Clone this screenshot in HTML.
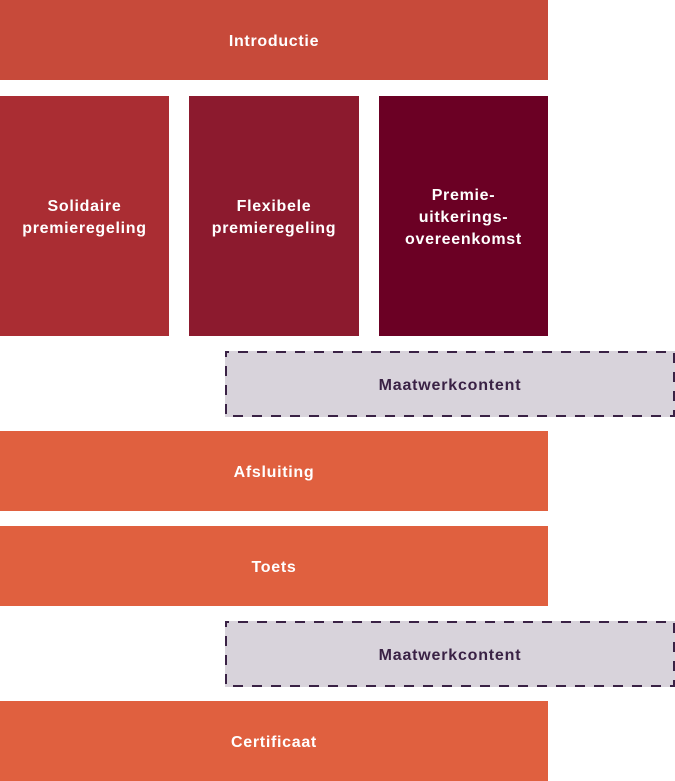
<!DOCTYPE html>
<html>
<head>
<meta charset="utf-8">
<style>
  html, body { margin:0; padding:0; background:#ffffff; }
  body { width:675px; height:781px; position:relative; overflow:hidden;
         font-family:"Liberation Sans", "DejaVu Sans", sans-serif; }
  .b { position:absolute; display:flex; align-items:center; justify-content:center;
       text-align:center; color:#ffffff; font-weight:bold; font-size:16px;
       letter-spacing:0.7px; line-height:22px; box-sizing:border-box; padding-top:4px; }
  .dash { position:absolute; left:225px; width:450px; height:66px; }
  .dash svg { position:absolute; left:0; top:0; }
  .dash span { position:absolute; left:0; top:0; width:450px; height:66px;
       box-sizing:border-box; padding-top:3px;
       display:flex; align-items:center; justify-content:center;
       color:#3a2245; font-weight:bold; font-size:16px; letter-spacing:0.8px; }
</style>
</head>
<body>
  <div class="b" style="left:0;top:0;width:548px;height:80px;background:#c74a3a;">Introductie</div>

  <div class="b" style="left:0;top:96px;width:169px;height:240px;background:#aa2d33;">Solidaire<br>premieregeling</div>
  <div class="b" style="left:189px;top:96px;width:170px;height:240px;background:#8c1a2e;">Flexibele<br>premieregeling</div>
  <div class="b" style="left:379px;top:96px;width:169px;height:240px;background:#6b0024;">Premie-<br>uitkerings-<br>overeenkomst</div>

  <div class="dash" style="top:351px;">
    <svg width="450" height="66" viewBox="0 0 450 66">
      <rect x="0" y="0" width="450" height="66" fill="#d8d3db"/>
      <rect x="1" y="1" width="448" height="64" fill="none" stroke="#3a2245" stroke-width="2" stroke-dasharray="10 9" stroke-dashoffset="7"/>
    </svg>
    <span>Maatwerkcontent</span>
  </div>

  <div class="b" style="left:0;top:431px;width:548px;height:80px;background:#e0603f;">Afsluiting</div>
  <div class="b" style="left:0;top:526px;width:548px;height:80px;background:#e0603f;">Toets</div>

  <div class="dash" style="top:621px;">
    <svg width="450" height="66" viewBox="0 0 450 66">
      <rect x="0" y="0" width="450" height="66" fill="#d8d3db"/>
      <rect x="1" y="1" width="448" height="64" fill="none" stroke="#3a2245" stroke-width="2" stroke-dasharray="10 9" stroke-dashoffset="7"/>
    </svg>
    <span>Maatwerkcontent</span>
  </div>

  <div class="b" style="left:0;top:701px;width:548px;height:80px;background:#e0603f;">Certificaat</div>
</body>
</html>
